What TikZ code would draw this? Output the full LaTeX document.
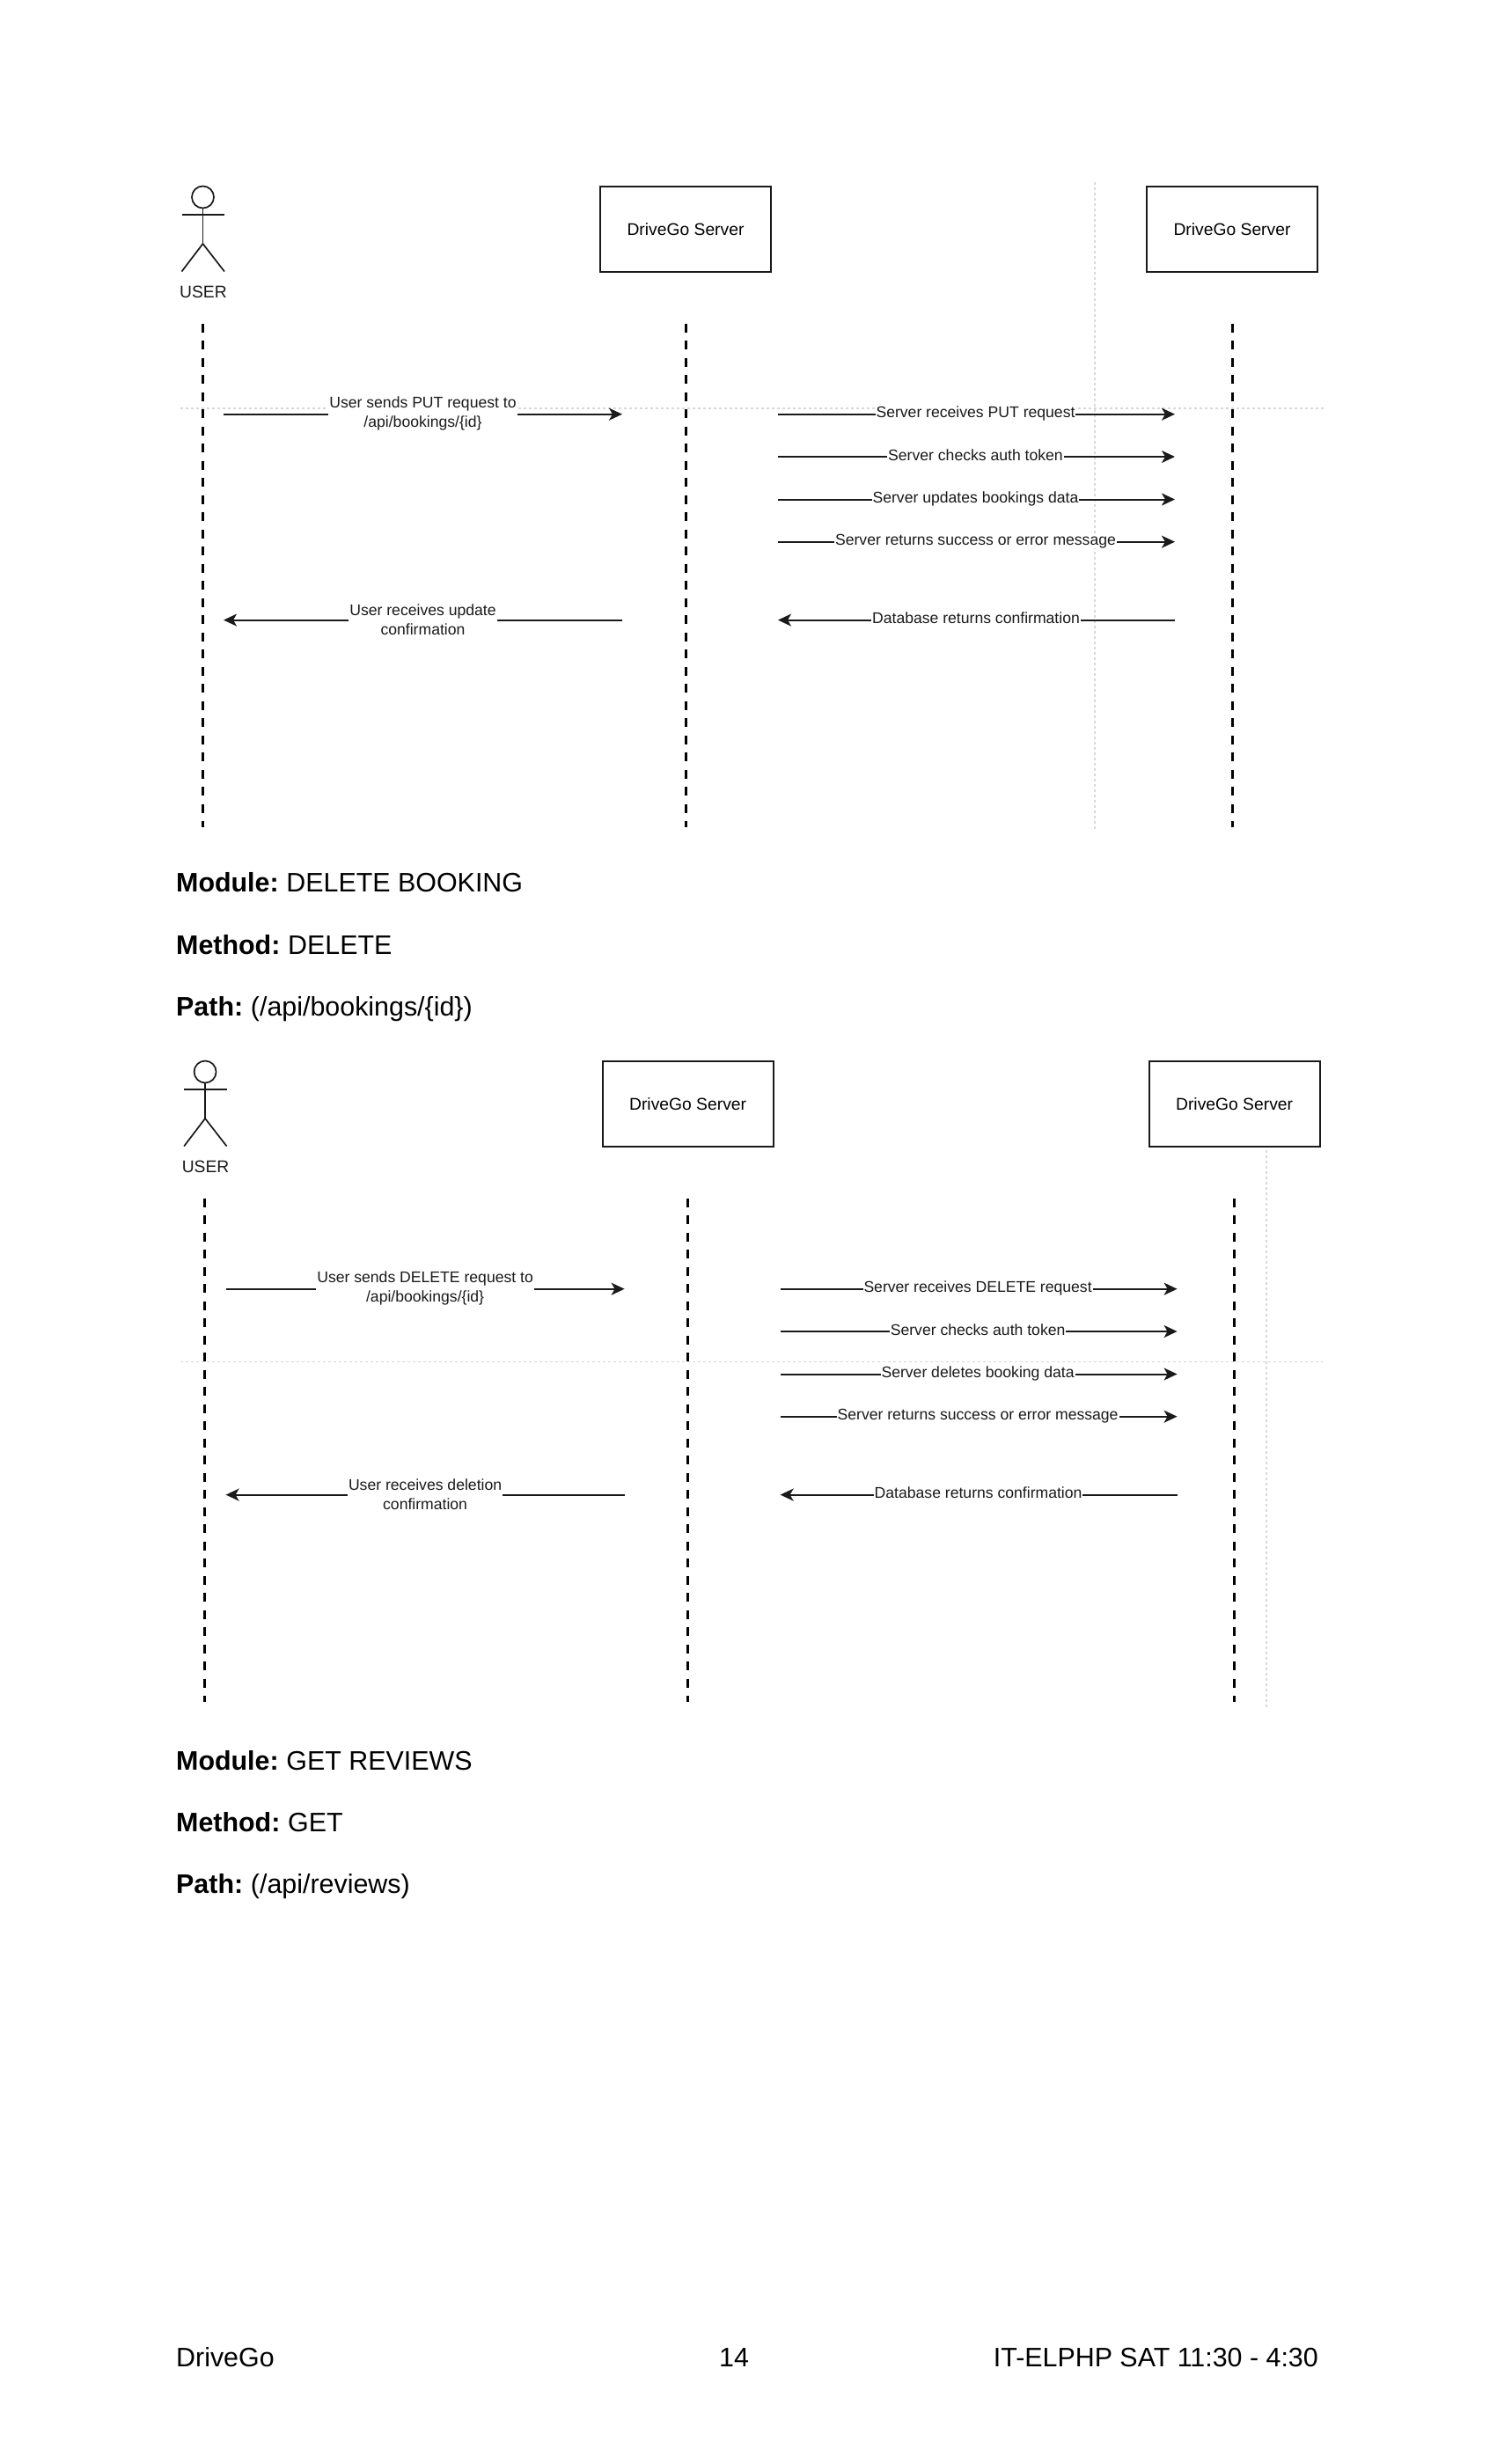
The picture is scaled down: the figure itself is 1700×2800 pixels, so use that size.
\documentclass[tikz,border=0pt]{standalone}
\usepackage{fontspec}
\setmainfont{Liberation Sans}
\usetikzlibrary{arrows.meta}
\definecolor{guide}{HTML}{D8D8D8}
\definecolor{ink}{HTML}{1A1A1A}
\newcommand{\bodylabel}[1]{\textbf{#1}\hspace{-2.5pt} }
\tikzset{
  guideline/.style={draw=guide,line width=1.4pt,dash pattern=on 3pt off 3pt},
  lifeline/.style={draw=black,line width=3pt,dash pattern=on 10pt off 9.5pt},
  serverbox/.style={draw=ink,fill=white,line width=2pt,minimum width=194pt,minimum height=97pt,inner sep=0pt,font=\fontsize{19.3}{23}\selectfont},
  actorline/.style={draw=ink,line width=1.7pt},
  msg/.style={draw=ink,line width=2pt,-{Stealth[length=15pt,width=14pt,inset=4pt]}},
  msglabel/.style={fill=white,inner sep=1pt,align=center,font=\fontsize{17.6}{22}\selectfont,text=ink},
  body/.style={anchor=base west,inner sep=0pt,font=\fontsize{30.4}{36}\selectfont},
}
\newcommand{\seqdiagram}[7]{%
 \begin{scope}[shift={(#2,#3)}]
  \node[circle,actorline,minimum size=25pt,inner sep=0pt] (#1head) at (230.5,224) {};
  \coordinate (#1neck) at (230.5,277);
  \coordinate (#1sl) at (206.5,244); \coordinate (#1sr) at (255,244);
  \coordinate (#1ll) at (206.5,308.5); \coordinate (#1lr) at (255,308.5);
  \draw[actorline] (#1head.south) -- (#1neck);
  \draw[actorline] (#1sl) -- (#1sr);
  \draw[actorline] (#1ll) -- (#1neck) -- (#1lr);
  \node[font=\fontsize{19.3}{23}\selectfont,text=ink] (#1user) at (231,331.5) {USER};
  \node[serverbox] (#1srva) at (779,260.5) {DriveGo Server};
  \node[serverbox] (#1srvb) at (1400,260.5) {DriveGo Server};
  \coordinate (#1ua) at (230,367.5); \coordinate (#1ub) at (230,940);
  \coordinate (#1sa) at (779,367.5); \coordinate (#1sb) at (779,940);
  \coordinate (#1da) at (1400,367.5); \coordinate (#1db) at (1400,940);
  \draw[lifeline] (#1ua) -- (#1ub);
  \draw[lifeline] (#1sa) -- (#1sb);
  \draw[lifeline] (#1da) -- (#1db);
  \coordinate (#1l1) at (254,470.7); \coordinate (#1r1) at (707,470.7);
  \coordinate (#1l2) at (254,704.6); \coordinate (#1r2) at (707,704.6);
  \coordinate (#1a1) at (884,470.7); \coordinate (#1b1) at (1335,470.7);
  \coordinate (#1a2) at (884,519); \coordinate (#1b2) at (1335,519);
  \coordinate (#1a3) at (884,567.5); \coordinate (#1b3) at (1335,567.5);
  \coordinate (#1a4) at (884,615.7); \coordinate (#1b4) at (1335,615.7);
  \coordinate (#1a5) at (884,704.6); \coordinate (#1b5) at (1335,704.6);
  \draw[msg] (#1l1) -- node[msglabel,yshift=0.8pt] (#1t1) {#4} (#1r1);
  \draw[msg] (#1r2) -- node[msglabel,yshift=0.8pt] (#1t2) {#5} (#1l2);
  \draw[msg] (#1a1) -- node[msglabel,yshift=1pt,xshift=-1pt,inner ysep=0pt] (#1t3) {#6} (#1b1);
  \draw[msg] (#1a2) -- node[msglabel,yshift=2pt,xshift=-1pt,inner ysep=0pt] (#1t4) {Server checks auth token} (#1b2);
  \draw[msg] (#1a3) -- node[msglabel,yshift=1pt,xshift=-1pt,inner ysep=0pt] (#1t5) {#7} (#1b3);
  \draw[msg] (#1a4) -- node[msglabel,yshift=1pt,xshift=-1pt,inner ysep=0pt] (#1t6) {Server returns success or error message} (#1b4);
  \draw[msg] (#1b5) -- node[msglabel,yshift=2pt,xshift=-0.5pt,inner ysep=0pt] (#1t7) {Database returns confirmation} (#1a5);
 \end{scope}}
\begin{document}
\begin{tikzpicture}[x=1pt,y=-1pt]
\useasboundingbox[fill=white] (0,0) rectangle (1700,2800);
% faint guides
\coordinate (g1a) at (205,464); \coordinate (g1b) at (1505,464);
\coordinate (g2a) at (1244,207); \coordinate (g2b) at (1244,945);
\coordinate (g3a) at (205,1547.5); \coordinate (g3b) at (1505,1547.5);
\coordinate (g4a) at (1439,1205); \coordinate (g4b) at (1439,1940);
\draw[guideline] (g1a) -- (g1b);
\draw[guideline] (g2a) -- (g2b);
\draw[guideline] (g3a) -- (g3b);
\draw[guideline] (g4a) -- (g4b);
\seqdiagram{p}{0}{0}{User sends PUT request to\\/api/bookings/\{id\}}{User receives update\\confirmation}{Server receives PUT request}{Server updates bookings data}
\seqdiagram{d}{2.6}{994}{User sends DELETE request to\\/api/bookings/\{id\}}{User receives deletion\\confirmation}{Server receives DELETE request}{Server deletes booking data}
% page text
\node[body] (m1) at (200,1013) {\bodylabel{Module:}DELETE BOOKING};
\node[body] (m2) at (200,1084) {\bodylabel{Method:}DELETE};
\node[body] (m3) at (200,1154) {\bodylabel{Path:}(/api/bookings/\{id\})};
\node[body] (m4) at (200,2011) {\bodylabel{Module:}GET REVIEWS};
\node[body] (m5) at (200,2081) {\bodylabel{Method:}GET};
\node[body] (m6) at (200,2151) {\bodylabel{Path:}(/api/reviews)};
\node[body] (f1) at (200,2689) {DriveGo};
\node[body,anchor=base] (f2) at (834,2689) {14};
\node[body,anchor=base east] (f3) at (1498,2689) {IT-ELPHP SAT 11:30 - 4:30};
\end{tikzpicture}
\end{document}
